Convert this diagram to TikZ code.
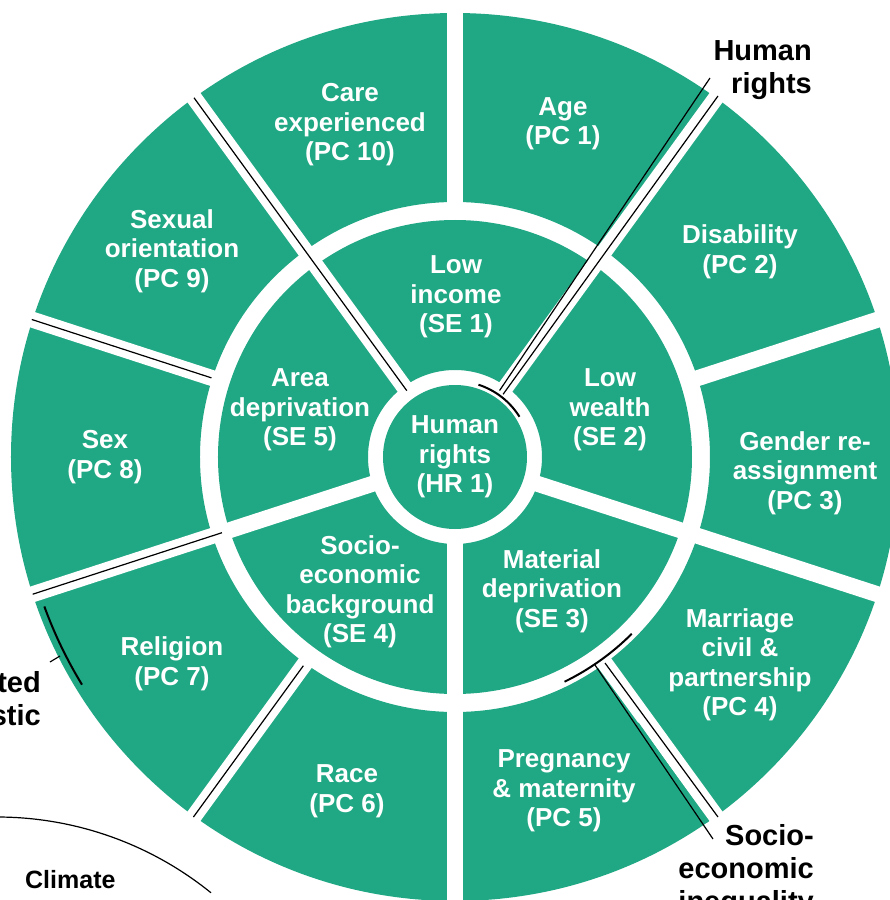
\documentclass[tikz,border=0pt]{standalone}
\usepackage{fontspec}
\setmainfont{Liberation Sans}
\definecolor{wheelgreen}{RGB}{32,168,132}
\begin{document}
\begin{tikzpicture}[x=1pt,y=1pt,
  gapline/.style={white, line width=16pt},
  lbl/.style={text=white, font=\fontsize{26}{29.5}\selectfont\bfseries, align=center, inner sep=0pt},
  side/.style={text=black, font=\fontsize{29}{33}\selectfont\bfseries, align=right, inner sep=0pt},
  ann/.style={black, line width=1.2pt},
  annarc/.style={black, line width=2pt}]
\useasboundingbox (-455,-443) rectangle (435,457);
\clip (-455,-443) rectangle (435,457);
% rings
\fill[wheelgreen, even odd rule] (0,0) circle[radius=444] (0,0) circle[radius=255];
\fill[wheelgreen, even odd rule] (0,0) circle[radius=237] (0,0) circle[radius=87];
\foreach \a in {54,-18,-90,-162,126} \draw[gapline] (\a:80) -- (\a:470);
\foreach \a in {90,18,-54,-126,162} \draw[gapline] (\a:240) -- (\a:470);
\fill[wheelgreen] (0,0) circle[radius=72];
% annotation lines from the surrounding diagram
\draw[ann] (126:82) -- (126:444);
\draw[ann] (162:256) -- (162:445);
\draw[ann] (-162:245) -- (-162:444);
\draw[ann] (-126:258) -- (-126:445);
\draw[ann] (44.6,66.5) -- (255,379);
\draw[ann] (48.1,62.7) -- (263,361);
\draw[annarc] (72:76) arc[start angle=72, end angle=32, radius=76];
\draw[ann] (140,-208) -- (258,-382);
\draw[ann] (150,-206) -- (263,-360);
\draw[wheelgreen, line width=1.5pt] (183,-266) -- (253,-365);
\draw[annarc] (-64:250) arc[start angle=-64, end angle=-45, radius=250];
\draw[annarc] (200:437) arc[start angle=200, end angle=211.4, radius=437];
\draw[ann] (-405,-205) -- (-395,-199);
\draw[black, line width=1.2pt] (-487.6,-361.3) arc[start angle=95, end angle=51, radius=340];
% labels
\node[lbl] (hr1) at (0,0) {Human\\rights\\(HR 1)};
\node[lbl] (se1) at (1,160) {Low\\income\\(SE 1)};
\node[lbl] (se2) at (155,47) {Low\\wealth\\(SE 2)};
\node[lbl] (se3) at (97,-134) {Material\\deprivation\\(SE 3)};
\node[lbl] (se4) at (-95,-135) {Socio-\\economic\\background\\(SE 4)};
\node[lbl] (se5) at (-155,47) {Area\\deprivation\\(SE 5)};
\node[lbl] (pc1) at (108,333) {Age\\(PC 1)};
\node[lbl] (pc2) at (285,205) {Disability\\(PC 2)};
\node[lbl] (pc3) at (350,-16) {Gender re-\\assignment\\(PC 3)};
\node[lbl] (pc4) at (285,-208) {Marriage\\civil \&\\partnership\\(PC 4)};
\node[lbl] (pc5) at (109,-334) {Pregnancy\\\& maternity\\(PC 5)};
\node[lbl] (pc6) at (-108,-334) {Race\\(PC 6)};
\node[lbl] (pc7) at (-283,-207) {Religion\\(PC 7)};
\node[lbl] (pc8) at (-350,0) {Sex\\(PC 8)};
\node[lbl] (pc9) at (-283,206) {Sexual\\orientation\\(PC 9)};
\node[lbl] (pc10) at (-105,332) {Care\\experienced\\(PC 10)};
\node[side, anchor=north east] (hrlab) at (357,417) {Human\\rights};
\node[side, anchor=north east] (seilab) at (359,-367) {Socio-\\economic\\inequality};
\node[side, anchor=north east] (leftlab) at (-414,-214) {ted\\stic};
\node[text=black, font=\fontsize{25}{29}\selectfont\bfseries, inner sep=0pt, anchor=base west] (climate) at (-430,-431) {Climate};
\end{tikzpicture}
\end{document}
